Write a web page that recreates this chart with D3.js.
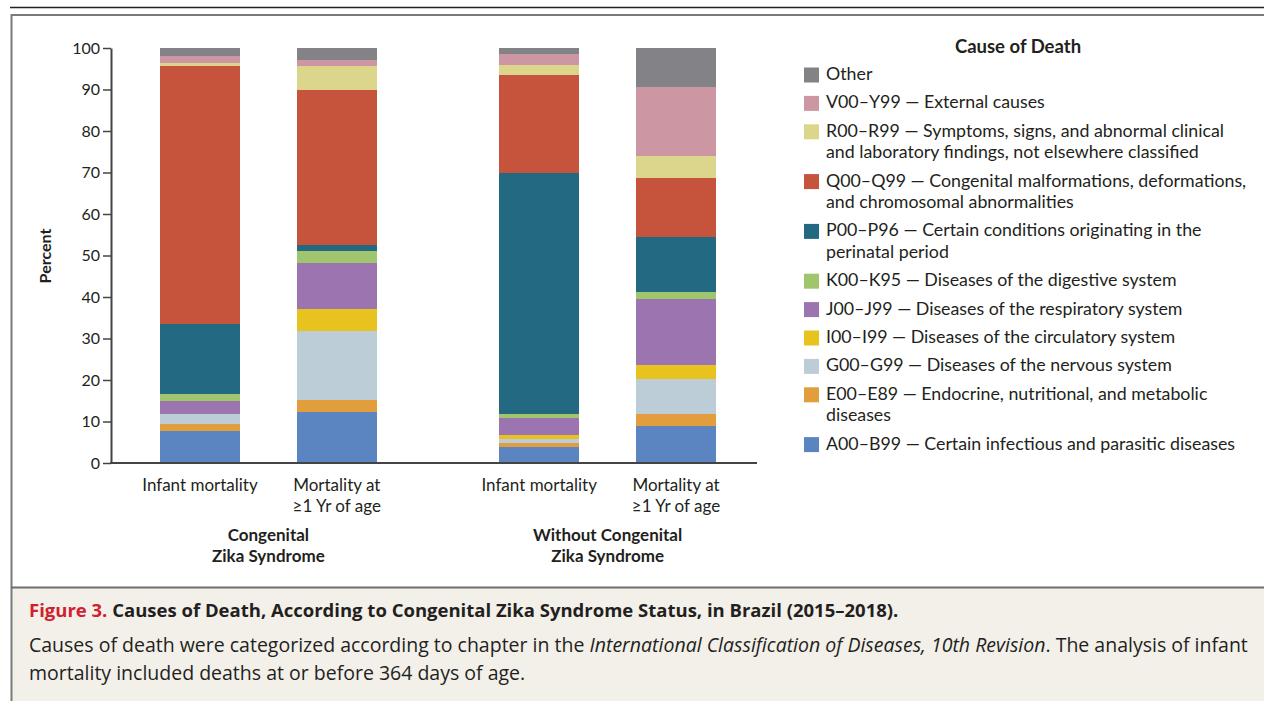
<!DOCTYPE html>
<html>
<head>
<meta charset="utf-8">
<script src="https://cdn.jsdelivr.net/npm/d3@7"></script>
<style>
  body { margin: 0; background: #fff; }
  svg { display: block; }
  text { font-family: Lato, "Open Sans", sans-serif; fill: #231f20; }
  .caption { font-family: "Open Sans", Lato, sans-serif; }
</style>
</head>
<body>
<svg id="chart" width="1264" height="701"></svg>
<script>
// --- data ---
const groupLabels = [["Congenital", "Zika Syndrome"], ["Without Congenital", "Zika Syndrome"]];
const barLabels = [["Infant mortality"], ["Mortality at", "\u22651 Yr of age"]];
const barIds = ["czInfant", "czOlder", "noInfant", "noOlder"];

// stacking order, bottom to top
const causeKeys = ["A", "E", "G", "I", "J", "K", "P", "Q", "R", "V", "Other"];
const causeLabels = [
  ["A00\u2013B99 \u2014 Certain infectious and parasitic diseases"],
  ["E00\u2013E89 \u2014 Endocrine, nutritional, and metabolic", "diseases"],
  ["G00\u2013G99 \u2014 Diseases of the nervous system"],
  ["I00\u2013I99 \u2014 Diseases of the circulatory system"],
  ["J00\u2013J99 \u2014 Diseases of the respiratory system"],
  ["K00\u2013K95 \u2014 Diseases of the digestive system"],
  ["P00\u2013P96 \u2014 Certain conditions originating in the", "perinatal period"],
  ["Q00\u2013Q99 \u2014 Congenital malformations, deformations,", "and chromosomal abnormalities"],
  ["R00\u2013R99 \u2014 Symptoms, signs, and abnormal clinical", "and laboratory findings, not elsewhere classified"],
  ["V00\u2013Y99 \u2014 External causes"],
  ["Other"]
];
const causeColors = ["#5b85c1", "#e29d3c", "#bccdd8", "#e8c21e", "#9c74b0", "#9fc56d",
                     "#236981", "#c6533b", "#dcd58c", "#cc96a3", "#838387"];

// percent per cause, same order as causeKeys
const czInfant = [7.7, 1.7, 2.4, 0.0, 3.1, 1.7, 16.9, 62.2, 0.7, 1.7, 1.9];
const czOlder  = [12.2, 2.9, 16.6, 5.5, 11.1, 2.9, 1.4, 37.4, 5.6, 1.4, 3.0];
const noInfant = [3.8, 1.0, 1.0, 1.0, 4.1, 1.0, 58.0, 23.6, 2.4, 2.7, 1.4];
const noOlder  = [8.9, 2.9, 8.4, 3.4, 15.9, 1.7, 13.2, 14.2, 5.3, 16.7, 9.4];

const yTicks = [0, 10, 20, 30, 40, 50, 60, 70, 80, 90, 100];

// table for d3.stack
const series = [czInfant, czOlder, noInfant, noOlder];
const rows = barIds.map((id, i) => {
  let r = { id: id, group: i < 2 ? 0 : 1, sub: i % 2 };
  causeKeys.forEach((k, j) => r[k] = series[i][j]);
  return r;
});

const svg = d3.select("#chart");

// frame
svg.append("line").attr("x1", 10).attr("x2", 1264).attr("y1", 7.5).attr("y2", 7.5)
  .attr("stroke", "#222").attr("stroke-width", 1.5);
svg.append("rect").attr("x", 11).attr("y", 588).attr("width", 1260).attr("height", 120)
  .attr("fill", "#f3f0ea");
svg.append("path").attr("d", "M1270,15H11.5V701")
  .attr("fill", "none").attr("stroke", "#7a7a7a").attr("stroke-width", 2);
svg.append("line").attr("x1", 11).attr("x2", 1264).attr("y1", 587.5).attr("y2", 587.5)
  .attr("stroke", "#6d6d6d").attr("stroke-width", 2);

// scales
const y = d3.scaleLinear().domain([0, 100]).range([463, 48]);
const xGroup = d3.scaleBand().domain([0, 1]).range([160, 716]).paddingInner(0.361).paddingOuter(0);
const xSub = d3.scaleBand().domain([0, 1]).range([0, xGroup.bandwidth()]).paddingInner(0.415).paddingOuter(0);
const xBar = d => xGroup(d.group) + xSub(d.sub);

const stack = d3.stack().keys(causeKeys);
const layers = stack(rows);

const g = svg.append("g");
g.selectAll("g.layer")
  .data(layers)
  .join("g")
  .attr("class", "layer")
  .attr("fill", (d, i) => causeColors[i])
  .selectAll("rect")
  .data(d => d)
  .join("rect")
  .attr("x", d => xBar(d.data))
  .attr("width", xSub.bandwidth())
  .attr("y", d => y(d[1]))
  .attr("height", d => y(d[0]) - y(d[1]))
  .attr("shape-rendering", "crispEdges");

// y axis
const yAxis = svg.append("g")
  .attr("transform", "translate(111,0)")
  .call(d3.axisLeft(y).tickValues(yTicks).tickSize(8).tickSizeOuter(0).tickPadding(3));
yAxis.select(".domain").attr("stroke", "#444").attr("stroke-width", 2);
yAxis.selectAll(".tick line").attr("stroke", "#444").attr("stroke-width", 1.5);
yAxis.selectAll(".tick text")
  .attr("font-family", "Lato, sans-serif").attr("font-size", 16).attr("fill", "#231f20");

// baseline
svg.append("line").attr("x1", 110).attr("x2", 757).attr("y1", y(0)).attr("y2", y(0))
  .attr("stroke", "#444").attr("stroke-width", 2);

svg.append("text")
  .attr("transform", "translate(51,256) rotate(-90)")
  .attr("text-anchor", "middle").attr("font-size", 16).attr("font-weight", "bold")
  .text("Percent");

// bar labels
rows.forEach(d => {
  const cx = xBar(d) + xSub.bandwidth() / 2;
  const t = svg.append("text").attr("text-anchor", "middle").attr("font-size", 17);
  barLabels[d.sub].forEach((line, k) => {
    t.append("tspan").attr("x", cx).attr("y", 491 + k * 21).text(line);
  });
});

// group labels
groupLabels.forEach((lines, i) => {
  const cx = xGroup(i) + xGroup.bandwidth() / 2;
  const t = svg.append("text").attr("text-anchor", "middle").attr("font-size", 17).attr("font-weight", "bold");
  lines.forEach((line, k) => {
    t.append("tspan").attr("x", cx).attr("y", 541 + k * 21).text(line);
  });
});

// legend, top to bottom
svg.append("text").attr("x", 1018).attr("y", 53).attr("text-anchor", "middle")
  .attr("font-size", 18.5).attr("font-weight", "bold").text("Cause of Death");

let ly = 80;
d3.range(causeKeys.length - 1, -1, -1).forEach(i => {
  svg.append("rect").attr("x", 804).attr("y", ly - 12.5).attr("width", 15).attr("height", 15)
    .attr("fill", causeColors[i]);
  const t = svg.append("text").attr("font-size", 17.8);
  causeLabels[i].forEach((line, k) => {
    t.append("tspan").attr("x", 826).attr("y", ly + k * 21.4).text(line);
  });
  ly += 28.4 + 21.4 * (causeLabels[i].length - 1);
});

// caption
const cap1 = svg.append("text").attr("class", "caption").attr("x", 29).attr("y", 617)
  .attr("font-size", 18.5).attr("font-weight", "bold");
cap1.append("tspan").attr("fill", "#d1202f").text("Figure 3. ");
cap1.append("tspan").text("Causes of Death, According to Congenital Zika Syndrome Status, in Brazil (2015\u20132018).");

const cap2 = svg.append("text").attr("class", "caption").attr("x", 29).attr("y", 652).attr("font-size", 19.5);
cap2.append("tspan").text("Causes of death were categorized according to chapter in the ");
cap2.append("tspan").attr("font-style", "italic").text("International Classification of Diseases, 10th Revision");
cap2.append("tspan").text(". The analysis of infant");
svg.append("text").attr("class", "caption").attr("x", 29).attr("y", 680).attr("font-size", 19.5)
  .text("mortality included deaths at or before 364 days of age.");
</script>
</body>
</html>
